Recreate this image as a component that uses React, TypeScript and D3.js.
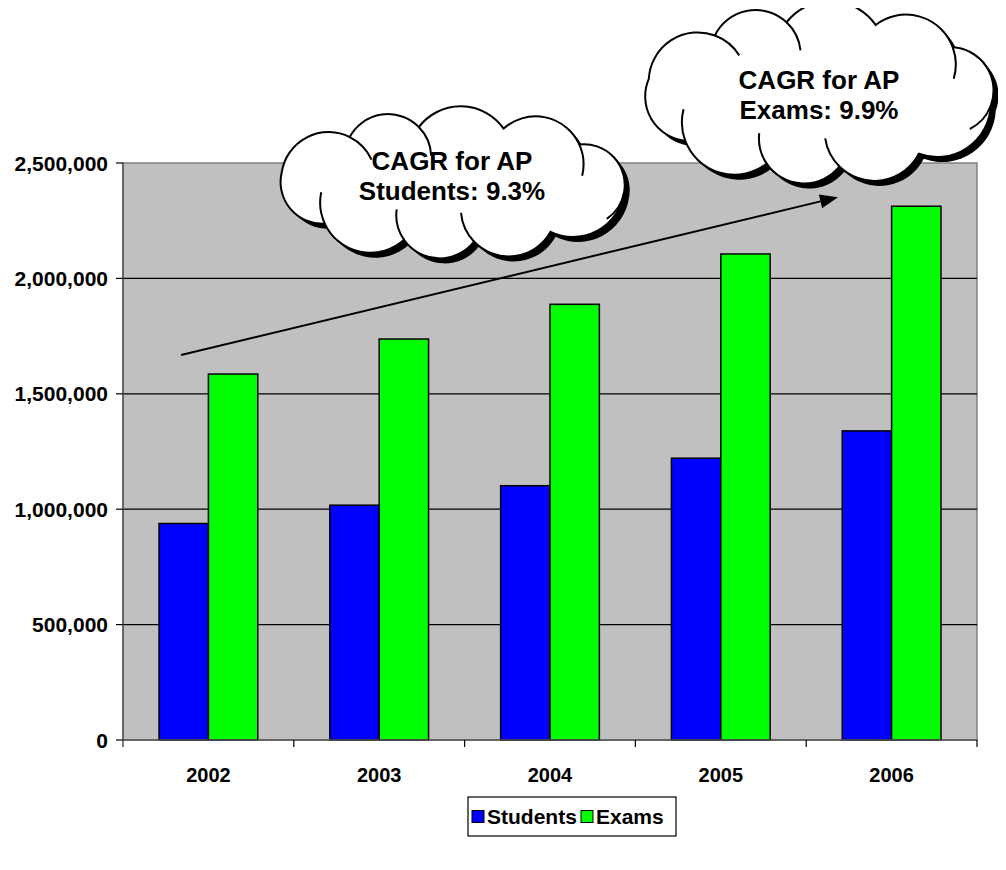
import React from 'react';
import * as d3 from 'd3';

const years = ['2002', '2003', '2004', '2005', '2006'];
const students = [937951, 1017396, 1101802, 1221016, 1339282];
const exams = [1585516, 1737231, 1887770, 2105803, 2312611];
const yTicks = [0, 500000, 1000000, 1500000, 2000000, 2500000];
const seriesNames = ['Students', 'Exams'];
const seriesColors = ['#0000FF', '#00FF00'];
const calloutStudents = ['CAGR for AP', 'Students: 9.3%'];
const calloutExams = ['CAGR for AP', 'Exams: 9.9%'];
// arrow in data space: [year, fraction of band, value]
const arrowFrom = { year: '2002', frac: 0.34, value: 1668000 };
const arrowTo = { year: '2006', frac: 0.186, value: 2352000 };

const W = 1006;
const H = 870;
const FONT = "'Liberation Sans', Arial, Helvetica, sans-serif";
const left = 123, right = 977, top = 163, bottom = 740;

const lobeFracs = [0.1, 0.09, 0.11, 0.1, 0.095, 0.11, 0.1, 0.09, 0.105, 0.1];
const markIdx = [0, 1, 3, 4, 6, 7, 8];

function cloud(cx: number, cy: number, rx: number, ry: number, startDeg: number) {
  const N = 1440;
  const pts: [number, number][] = [];
  for (let i = 0; i <= N; i++) {
    const a = (startDeg * Math.PI) / 180 + (i / N) * Math.PI * 2;
    pts.push([cx + rx * Math.cos(a), cy + ry * Math.sin(a)]);
  }
  const cum = [0];
  for (let i = 1; i <= N; i++) {
    cum.push(cum[i - 1] + Math.hypot(pts[i][0] - pts[i - 1][0], pts[i][1] - pts[i - 1][1]));
  }
  const total = cum[N];
  const nodes: [number, number][] = [];
  let f = 0;
  for (let k = 0; k < lobeFracs.length; k++) {
    let j = d3.bisectLeft(cum, f * total);
    if (j > N) j = N;
    nodes.push(pts[j]);
    f += lobeFracs[k];
  }
  const outline = d3.path();
  const marks = d3.path();
  outline.moveTo(nodes[0][0], nodes[0][1]);
  for (let k = 0; k < nodes.length; k++) {
    const p = nodes[k];
    const q = nodes[(k + 1) % nodes.length];
    const c = Math.hypot(q[0] - p[0], q[1] - p[1]);
    const r = c * 0.62;
    const m = [(p[0] + q[0]) / 2, (p[1] + q[1]) / 2];
    const ux = (q[0] - p[0]) / c, uy = (q[1] - p[1]) / c;
    const h = Math.sqrt(r * r - (c / 2) * (c / 2));
    const ctr = [m[0] - uy * h, m[1] + ux * h];
    const a0 = Math.atan2(p[1] - ctr[1], p[0] - ctr[0]);
    let a1 = Math.atan2(q[1] - ctr[1], q[0] - ctr[0]);
    while (a1 < a0) a1 += Math.PI * 2;
    outline.arc(ctr[0], ctr[1], r, a0, a1, false);
    if (markIdx.includes(k)) {
      marks.moveTo(q[0], q[1]);
      marks.arc(ctr[0], ctr[1], r, a1, a1 + 32 / r, false);
    }
  }
  outline.closePath();
  return { d: outline.toString(), marks: marks.toString() };
}

function Cloud({ cx, cy, rx, ry, ty, lines }: { cx: number; cy: number; rx: number; ry: number; ty: number; lines: string[] }) {
  const c = cloud(cx, cy, rx, ry, 192);
  return (
    <g>
      <path d={c.d} transform="translate(5,5)" fill="#000" />
      <path d={c.d} fill="#fff" stroke="#000" strokeWidth={2} />
      <path d={c.marks} fill="none" stroke="#000" strokeWidth={2} />
      {lines.map((t, i) => (
        <text
          key={i}
          x={cx}
          y={ty + (i - (lines.length - 1) / 2) * 30}
          textAnchor="middle"
          dominantBaseline="central"
          fontFamily={FONT}
          fontWeight="bold"
          fontSize={26}
          fill="#000"
        >
          {t}
        </text>
      ))}
    </g>
  );
}

export default function App() {
  const x = d3.scaleBand<string>().domain(years).range([left, right]).paddingInner(0).paddingOuter(0);
  const xs = d3.scaleBand<string>().domain(seriesNames).range([0, x.bandwidth()]).paddingInner(0).paddingOuter(0.73);
  const y = d3.scaleLinear().domain([0, 2500000]).range([bottom, top]);
  const fmt = d3.format(',');
  const series = [students, exams];

  const ax0 = (x(arrowFrom.year) as number) + arrowFrom.frac * x.bandwidth();
  const ay0 = y(arrowFrom.value);
  const ax1 = (x(arrowTo.year) as number) + arrowTo.frac * x.bandwidth();
  const ay1 = y(arrowTo.value);
  const ang = Math.atan2(ay1 - ay0, ax1 - ax0);
  const hl = 18, hw = 7;
  const bx = ax1 - hl * Math.cos(ang), by = ay1 - hl * Math.sin(ang);
  const head = `M${ax1},${ay1} L${bx - hw * Math.sin(ang)},${by + hw * Math.cos(ang)} L${bx + hw * Math.sin(ang)},${by - hw * Math.cos(ang)} Z`;

  // legend
  const legFont = 21;
  const legX = 468, legY = 797, legW = 208, legH = 39;
  const itemOff = [4, 113];

  return (
    <svg width={W} height={H} style={{ display: 'block', margin: '-8px' }} xmlns="http://www.w3.org/2000/svg">
      <rect x={0} y={0} width={W} height={H} fill="#fff" />
      <rect x={left} y={top} width={right - left} height={bottom - top} fill="#C0C0C0" stroke="#808080" strokeWidth={1.5} />
      {yTicks.slice(1, -1).map((t) => (
        <line key={t} x1={left} x2={right} y1={y(t)} y2={y(t)} stroke="#000" strokeWidth={1.2} />
      ))}
      {years.map((yr, i) =>
        series.map((s, j) => (
          <rect
            key={yr + j}
            x={(x(yr) as number) + (xs(seriesNames[j]) as number)}
            y={y(s[i])}
            width={xs.bandwidth()}
            height={bottom - y(s[i])}
            fill={seriesColors[j]}
            stroke="#000"
            strokeWidth={1.5}
          />
        ))
      )}
      {/* axes */}
      <line x1={left} x2={left} y1={top} y2={bottom + 7} stroke="#555" strokeWidth={1.5} />
      <line x1={left} x2={right} y1={bottom} y2={bottom} stroke="#555" strokeWidth={1.5} />
      {yTicks.map((t) => (
        <g key={t}>
          <line x1={left - 7} x2={left} y1={y(t)} y2={y(t)} stroke="#000" strokeWidth={1.2} />
          <text x={108} y={y(t)} textAnchor="end" dominantBaseline="central" fontFamily={FONT} fontWeight="bold" fontSize={21}>
            {fmt(t)}
          </text>
        </g>
      ))}
      {years.map((yr) => (
        <line key={yr} x1={(x(yr) as number) + x.bandwidth()} x2={(x(yr) as number) + x.bandwidth()} y1={bottom} y2={bottom + 7} stroke="#000" strokeWidth={1.2} />
      ))}
      {years.map((yr) => (
        <text key={yr} x={(x(yr) as number) + x.bandwidth() / 2} y={775} textAnchor="middle" dominantBaseline="central" fontFamily={FONT} fontWeight="bold" fontSize={20}>
          {yr}
        </text>
      ))}
      {/* arrow */}
      <line x1={ax0} y1={ay0} x2={bx} y2={by} stroke="#000" strokeWidth={2} />
      <path d={head} fill="#000" />
      {/* clouds */}
      <Cloud cx={452} cy={184} rx={174} ry={58} ty={176} lines={calloutStudents} />
      <Cloud cx={819} cy={94} rx={174} ry={73} ty={95} lines={calloutExams} />
      {/* legend */}
      <rect x={legX} y={legY} width={legW} height={legH} fill="#fff" stroke="#000" strokeWidth={1.2} />
      {seriesNames.map((n, j) => (
        <g key={n}>
          <rect x={legX + itemOff[j]} y={legY + legH / 2 - 6} width={12} height={12} fill={seriesColors[j]} stroke="#000" strokeWidth={1} />
          <text x={legX + itemOff[j] + 15} y={legY + legH / 2} dominantBaseline="central" fontFamily={FONT} fontWeight="bold" fontSize={legFont}>
            {n}
          </text>
        </g>
      ))}
    </svg>
  );
}
